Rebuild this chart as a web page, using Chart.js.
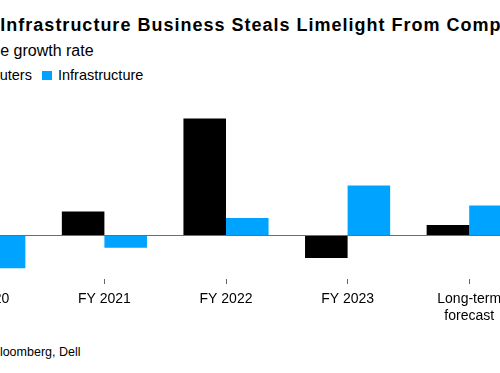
<!DOCTYPE html>
<html>
<head>
<meta charset="utf-8">
<script src="https://cdn.jsdelivr.net/npm/chart.js@4.4.1/dist/chart.umd.min.js"></script>
<style>
  html, body { margin: 0; padding: 0; background: #fff; }
  body { width: 500px; height: 373px; overflow: hidden; position: relative; font-family: "Liberation Sans", Arial, sans-serif; color: #000; }
  .line { position: absolute; white-space: nowrap; line-height: 1; }
  #title { top: 15.5px; font-size: 18px; font-weight: bold; letter-spacing: 1px; }
  #subtitle { top: 43px; font-size: 16px; }
  #legend { top: 68px; font-size: 14.5px; display: flex; align-items: center; }
  #legend .sw { display: inline-block; width: 10px; height: 9px; margin-right: 6px; }
  #legend .item { display: flex; align-items: center; margin-right: 10px; }
  #source { top: 346px; font-size: 12.5px; }
  #chartBox { position: absolute; left: -78px; top: 105px; width: 608px; height: 226px; }
</style>
</head>
<body>
<div class="line" id="title"><span class="pre">Dell’s </span>Infrastructure Business Steals Limelight From Computers</div>
<div class="line" id="subtitle"><span class="pre">Revenu</span>e growth rate</div>
<div class="line" id="legend"></div>
<div class="line" id="source"><span class="pre">Source: B</span>loomberg, Dell</div>
<div id="chartBox"><canvas id="chart"></canvas></div>
<script>
// Dell revenue growth by segment (%)
const categories = ['FY 2020', 'FY 2021', 'FY 2022', 'FY 2023', ['Long-term', 'forecast']];
const computers = [6, 5.5, 26.9, -5.2, 2.4];
const infrastructure = [-7.5, -2.8, 4.0, 11.5, 6.9];
const seriesNames = ['Computers', 'Infrastructure'];
const seriesColors = ['#000000', '#00a3ff'];

// legend
const legend = document.getElementById('legend');
seriesNames.forEach((name, i) => {
  const item = document.createElement('span');
  item.className = 'item';
  item.innerHTML = '<span class="sw" style="background:' + seriesColors[i] + '"></span>' +
    (i === 0 ? '<span class="pre">Comp</span>uters' : name);
  legend.appendChild(item);
});

// the picture is a crop of a wider chart: shift each line so the cut falls where it does
document.querySelectorAll('.line').forEach(el => {
  const pre = el.querySelector('.pre');
  let w = pre.offsetWidth;
  if (el.id === 'legend') w = pre.offsetLeft + pre.offsetWidth - legend.offsetLeft;
  el.style.left = (-w) + 'px';
});

new Chart(document.getElementById('chart'), {
  type: 'bar',
  data: {
    labels: categories,
    datasets: [
      { label: seriesNames[0], data: computers, backgroundColor: seriesColors[0], borderWidth: 0 },
      { label: seriesNames[1], data: infrastructure, backgroundColor: seriesColors[1], borderWidth: 0 }
    ]
  },
  options: {
    responsive: true,
    maintainAspectRatio: false,
    animation: false,
    categoryPercentage: 0.7,
    barPercentage: 1.0,
    layout: { padding: 0 },
    plugins: { legend: { display: false }, tooltip: { enabled: false } },
    scales: {
      x: {
        grid: { display: true, drawOnChartArea: false, drawTicks: true, tickLength: 5, offset: false, color: '#666' },
        border: { display: false },
        ticks: {
          color: '#000',
          padding: 6,
          maxRotation: 0,
          autoSkip: false,
          font: { family: '"Liberation Sans", Arial, sans-serif', size: 14, lineHeight: 1.25 }
        }
      },
      y: {
        min: -10,
        max: 30,
        grid: {
          drawTicks: false,
          color: ctx => ctx.tick && ctx.tick.value === 0 ? '#6e6e6e' : 'rgba(0,0,0,0)'
        },
        border: { display: false },
        ticks: { display: false, stepSize: 10 }
      }
    }
  }
});
</script>
</body>
</html>
